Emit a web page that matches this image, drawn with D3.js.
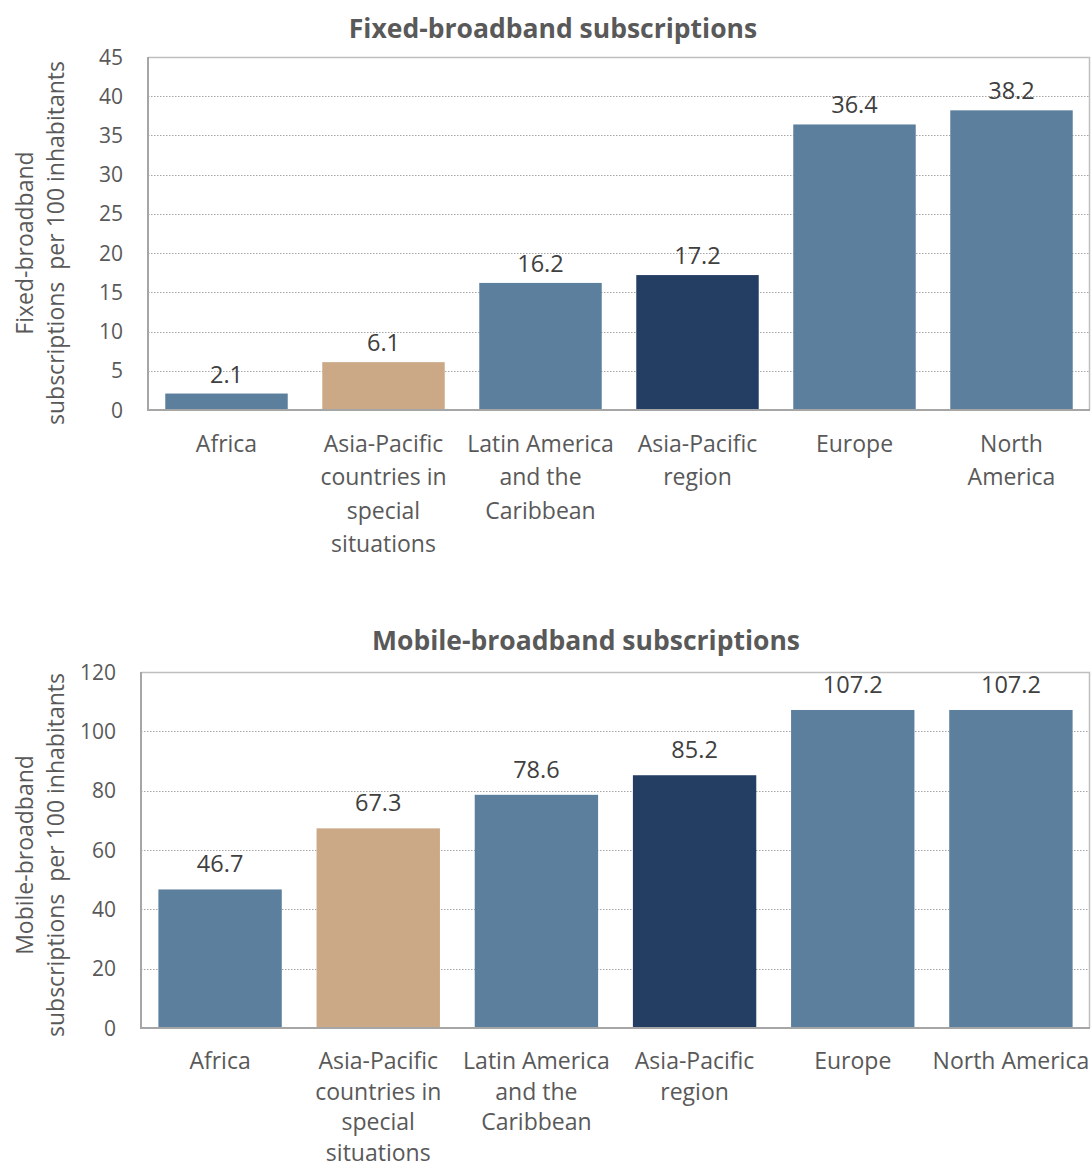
<!DOCTYPE html>
<html><head><meta charset="utf-8">
<script src="https://cdn.jsdelivr.net/npm/d3@7"></script>
<style>body{margin:0;background:#fff}svg{display:block}</style>
</head><body>
<svg id="c" width="1092" height="1168"></svg>
<script>
const categoriesFixed = [["Africa"],["Asia-Pacific","countries in","special","situations"],["Latin America","and the","Caribbean"],["Asia-Pacific","region"],["Europe"],["North","America"]];
const categoriesMobile = [["Africa"],["Asia-Pacific","countries in","special","situations"],["Latin America","and the","Caribbean"],["Asia-Pacific","region"],["Europe"],["North America"]];
const fixedValues = [2.1, 6.1, 16.2, 17.2, 36.4, 38.2];
const mobileValues = [46.7, 67.3, 78.6, 85.2, 107.2, 107.2];
const fixedTicks = [0,5,10,15,20,25,30,35,40,45];
const mobileTicks = [0,20,40,60,80,100,120];
const barColors = ["#5B7F9C","#CBA987","#5B7F9C","#243D63","#5B7F9C","#5B7F9C"];

const FONT = "'Open Sans', sans-serif";
const svg = d3.select("#c");

function drawChart(cfg){
  const g = svg.append("g");
  const x = d3.scaleBand().domain(d3.range(cfg.values.length)).range([cfg.left, cfg.right]).paddingInner(0.22).paddingOuter(0.11);
  const y = d3.scaleLinear().domain([0, cfg.max]).range([cfg.bottom, cfg.top]);
  g.selectAll("line.grid").data(cfg.ticks.filter(t=>t>0 && t<cfg.max)).enter().append("line")
    .attr("x1", cfg.left).attr("x2", cfg.right)
    .attr("y1", d=>Math.round(y(d))+0.5).attr("y2", d=>Math.round(y(d))+0.5)
    .attr("stroke", "#A6A6A6").attr("stroke-width", 1).attr("stroke-dasharray", "1.5,1.5");
  g.append("path").attr("d", `M${cfg.left},${cfg.top+0.5}H${cfg.right-0.5}V${cfg.bottom}`)
    .attr("fill","none").attr("stroke","#BFBFBF").attr("stroke-width",1.5);
  g.selectAll("rect.bar").data(cfg.values).enter().append("rect")
    .attr("x", (d,i)=>x(i)).attr("width", x.bandwidth())
    .attr("y", d=>y(d)).attr("height", d=>cfg.bottom - y(d))
    .attr("fill", (d,i)=>barColors[i]);
  g.append("line").attr("x1", cfg.left).attr("x2", cfg.left).attr("y1", cfg.top).attr("y2", cfg.bottom+1)
    .attr("stroke","#A6A6A6").attr("stroke-width",2);
  g.append("line").attr("x1", cfg.left).attr("x2", cfg.right).attr("y1", cfg.bottom).attr("y2", cfg.bottom)
    .attr("stroke","#A6A6A6").attr("stroke-width",2);
  g.selectAll("text.yt").data(cfg.ticks).enter().append("text")
    .attr("x", cfg.tickX).attr("y", d=>y(d)).attr("dy","0.36em")
    .attr("text-anchor","end").attr("font-family",FONT).attr("font-size",21).attr("fill","#595959")
    .text(d=>d);
  g.selectAll("text.dl").data(cfg.values).enter().append("text")
    .attr("x", (d,i)=>x(i)+x.bandwidth()/2).attr("y", d=>y(d)-cfg.labelGap)
    .attr("text-anchor","middle").attr("font-family",FONT).attr("font-size",23.5).attr("fill","#404040")
    .text(d=>d.toFixed(1));
  cfg.cats.forEach((lines,i)=>{
    const t = g.append("text").attr("text-anchor","middle").attr("font-family",FONT).attr("font-size",23)
      .attr("fill","#595959");
    lines.forEach((ln,j)=>{
      t.append("tspan").attr("x", x(i)+x.bandwidth()/2).attr("y", cfg.catY + j*cfg.catDy).text(ln);
    });
  });
  g.append("text").attr("x", cfg.titleX).attr("y", cfg.titleY).attr("text-anchor","middle")
    .attr("font-family",FONT).attr("font-weight","bold").attr("font-size",26.5).attr("fill","#595959")
    .text(cfg.title);
  const yt = g.append("text").attr("transform",`translate(0,${cfg.yTitleCenter}) rotate(-90)`).attr("text-anchor","middle")
    .attr("font-family",FONT).attr("font-size",23).attr("fill","#595959");
  cfg.yTitle.forEach((ln,j)=>{
    yt.append("tspan").attr("x",0).attr("y", cfg.yTitleX[j]).attr("xml:space","preserve").text(ln);
  });
}

drawChart({values: fixedValues, cats: categoriesFixed, ticks: fixedTicks, max: 45,
  left: 148, right: 1090, top: 57, bottom: 410, tickX: 123, labelGap: 11,
  catY: 452, catDy: 33.3, title: "Fixed-broadband subscriptions", titleX: 553, titleY: 38,
  yTitle: ["Fixed-broadband", "subscriptions  per 100 inhabitants"], yTitleX: [33, 64], yTitleCenter: 243});

drawChart({values: mobileValues, cats: categoriesMobile, ticks: mobileTicks, max: 120,
  left: 141, right: 1090, top: 672, bottom: 1028, tickX: 116, labelGap: 17,
  catY: 1069, catDy: 30.7, title: "Mobile-broadband subscriptions", titleX: 586, titleY: 650,
  yTitle: ["Mobile-broadband", "subscriptions  per 100 inhabitants"], yTitleX: [33, 64], yTitleCenter: 855});
</script>
</body></html>
